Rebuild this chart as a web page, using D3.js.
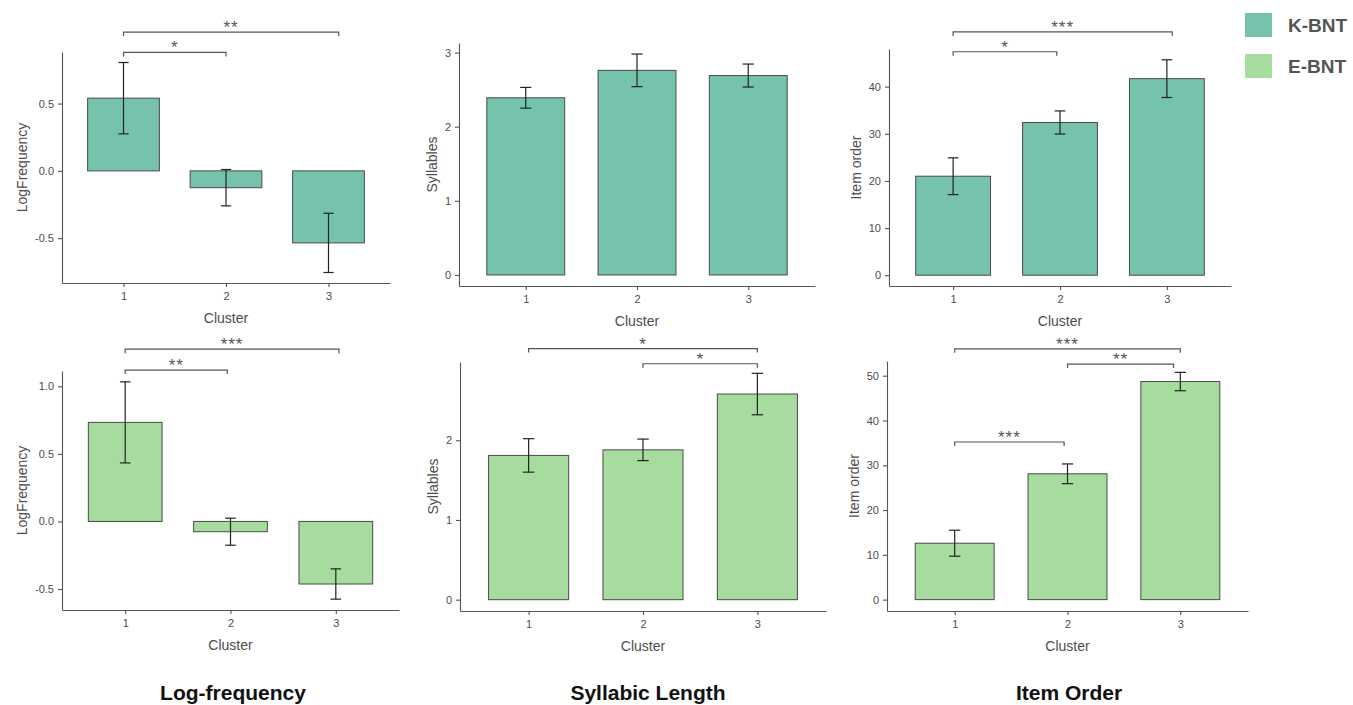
<!DOCTYPE html>
<html>
<head>
<meta charset="utf-8">
<script src="https://cdn.jsdelivr.net/npm/d3@7"></script>
<style>
  body { margin: 0; background: #fff; }
  svg { font-family: "Liberation Sans", Arial, sans-serif; }
  .axis path, .axis line { stroke: #555; stroke-width: 1.1; }
  .axis text { fill: #4d4d4d; font-size: 11px; }
  .axis-title { fill: #4d4d4d; font-size: 14px; }
  .sig-label { fill: #555; font-size: 17px; letter-spacing: 1px; }
  .panel-title { fill: #111; font-size: 21px; font-weight: bold; }
  .legend-text { fill: #555; font-size: 19px; font-weight: bold; }
</style>
</head>
<body>
<svg id="chart" width="1353" height="705"></svg>
<script>
// ---- data ----
const clusters = [1, 2, 3];
const groups = ['K-BNT', 'E-BNT'];
const groupColors = ['#75c3ad', '#a6dc9e'];
const measureTitles = ['Log-frequency', 'Syllabic Length', 'Item Order'];
const yLabels = ['LogFrequency', 'Syllables', 'Item order'];

// means and error half-widths, one value per cluster
const kLogFreq = [0.54, -0.125, -0.535];
const kLogFreqErr = [0.265, 0.135, 0.22];
const kSyllables = [2.39, 2.76, 2.69];
const kSyllablesErr = [0.14, 0.22, 0.155];
const kItemOrder = [21.0, 32.4, 41.7];
const kItemOrderErr = [3.9, 2.45, 4.0];

const eLogFreq = [0.733, -0.076, -0.463];
const eLogFreqErr = [0.30, 0.10, 0.112];
const eSyllables = [1.81, 1.88, 2.58];
const eSyllablesErr = [0.21, 0.135, 0.26];
const eItemOrder = [12.6, 28.1, 48.7];
const eItemOrderErr = [2.9, 2.2, 2.05];

// tick values per measure
const logFreqTicksK = [-0.5, 0, 0.5];
const logFreqTicksE = [-0.5, 0, 0.5, 1.0];
const syllableTicksK = [0, 1, 2, 3];
const syllableTicksE = [0, 1, 2];
const itemOrderTicksK = [0, 10, 20, 30, 40];
const itemOrderTicksE = [0, 10, 20, 30, 40, 50];

// significance brackets: from/to cluster, label, height in data units
const sigKLogFreq = [
  {from: 1, to: 2, label: '*', y: 0.88},
  {from: 1, to: 3.1, label: '**', y: 1.03}
];
const sigKSyllables = [];
const sigKItemOrder = [
  {from: 1, to: 1.97, label: '*', y: 47.4},
  {from: 1, to: 3.05, label: '***', y: 51.6}
];
const sigELogFreq = [
  {from: 1, to: 1.97, label: '**', y: 1.12},
  {from: 1, to: 3.03, label: '***', y: 1.275}
];
const sigESyllables = [
  {from: 2, to: 3, label: '*', y: 2.96},
  {from: 1, to: 3, label: '*', y: 3.15}
];
const sigEItemOrder = [
  {from: 1, to: 1.97, label: '***', y: 35.2},
  {from: 2, to: 2.94, label: '**', y: 52.6},
  {from: 1, to: 3, label: '***', y: 56.0}
];

// ---- panel layout (pixel boxes of each plot area) ----
const panels = [
  {group: 0, m: 0, mean: kLogFreq, err: kLogFreqErr, ticks: logFreqTicksK, sig: sigKLogFreq, fmt: d => d.toFixed(1),
   box: {left: 62, right: 390, top: 52, bottom: 283}},
  {group: 0, m: 1, mean: kSyllables, err: kSyllablesErr, ticks: syllableTicksK, sig: sigKSyllables, fmt: d => d,
   box: {left: 459, right: 815, top: 43, bottom: 286}},
  {group: 0, m: 2, mean: kItemOrder, err: kItemOrderErr, ticks: itemOrderTicksK, sig: sigKItemOrder, fmt: d => d,
   box: {left: 889, right: 1231, top: 49, bottom: 286}},
  {group: 1, m: 0, mean: eLogFreq, err: eLogFreqErr, ticks: logFreqTicksE, sig: sigELogFreq, fmt: d => d.toFixed(1),
   box: {left: 62, right: 399, top: 371, bottom: 610}},
  {group: 1, m: 1, mean: eSyllables, err: eSyllablesErr, ticks: syllableTicksE, sig: sigESyllables, fmt: d => d,
   box: {left: 460, right: 826, top: 362, bottom: 611}},
  {group: 1, m: 2, mean: eItemOrder, err: eItemOrderErr, ticks: itemOrderTicksE, sig: sigEItemOrder, fmt: d => d,
   box: {left: 887, right: 1248, top: 361, bottom: 611}}
];

const svg = d3.select('#chart');

function drawPanel(p) {
  const b = p.box;
  const rows = clusters.map((c, i) => ({cluster: c, mean: p.mean[i], lo: p.mean[i] - p.err[i], hi: p.mean[i] + p.err[i]}));

  // ggplot-like scales: discrete x expanded by 0.6, continuous y expanded by 5%
  const x = d3.scaleLinear().domain([0.4, 3.6]).range([b.left, b.right]);
  const yMin = d3.min(rows, d => Math.min(0, d.lo));
  const yMax = d3.max(rows, d => Math.max(0, d.hi));
  const pad = (yMax - yMin) * 0.05;
  const y = d3.scaleLinear().domain([yMin - pad, yMax + pad]).range([b.bottom, b.top]);

  const g = svg.append('g');
  const barW = x(1.35) - x(1);
  const capW = x(1.05) - x(1);

  g.selectAll('rect.bar')
    .data(rows)
    .join('rect')
    .attr('class', 'bar')
    .attr('x', d => x(d.cluster) - barW)
    .attr('width', barW * 2)
    .attr('y', d => y(Math.max(0, d.mean)))
    .attr('height', d => Math.abs(y(0) - y(d.mean)))
    .attr('fill', groupColors[p.group])
    .attr('stroke', '#4a4a4a')
    .attr('stroke-width', 1);

  // error bars
  const eb = g.selectAll('g.err').data(rows).join('g').attr('class', 'err')
    .attr('stroke', '#222').attr('stroke-width', 1.2);
  eb.append('line')
    .attr('x1', d => x(d.cluster)).attr('x2', d => x(d.cluster))
    .attr('y1', d => y(d.lo)).attr('y2', d => y(d.hi));
  eb.append('line')
    .attr('x1', d => x(d.cluster) - capW).attr('x2', d => x(d.cluster) + capW)
    .attr('y1', d => y(d.hi)).attr('y2', d => y(d.hi));
  eb.append('line')
    .attr('x1', d => x(d.cluster) - capW).attr('x2', d => x(d.cluster) + capW)
    .attr('y1', d => y(d.lo)).attr('y2', d => y(d.lo));

  // axes
  const yAxisG = g.append('g').attr('class', 'axis')
    .attr('transform', `translate(${b.left},0)`)
    .call(d3.axisLeft(y).tickValues(p.ticks).tickFormat(p.fmt).tickSize(4).tickSizeOuter(0).tickPadding(4));
  g.append('g').attr('class', 'axis')
    .attr('transform', `translate(0,${b.bottom})`)
    .call(d3.axisBottom(x).tickValues(clusters).tickFormat(d3.format('d')).tickSize(4).tickSizeOuter(0).tickPadding(5));

  // axis titles
  let labelW = 0;
  yAxisG.selectAll('.tick text').each(function() { labelW = Math.max(labelW, this.getComputedTextLength()); });
  g.append('text')
    .attr('class', 'axis-title')
    .attr('transform', `translate(${b.left - 8 - labelW - 13},${(b.top + b.bottom) / 2}) rotate(-90)`)
    .attr('text-anchor', 'middle')
    .attr('dy', '0.35em')
    .text(yLabels[p.m]);
  g.append('text')
    .attr('class', 'axis-title')
    .attr('x', x(2))
    .attr('y', b.bottom + 40)
    .attr('text-anchor', 'middle')
    .text('Cluster');

  // significance brackets
  const sg = g.selectAll('g.sig').data(p.sig).join('g').attr('class', 'sig');
  sg.append('path')
    .attr('d', d => `M${x(d.from)},${y(d.y) + 4}V${y(d.y)}H${x(d.to)}V${y(d.y) + 4}`)
    .attr('fill', 'none')
    .attr('stroke', '#555')
    .attr('stroke-width', 1.2);
  sg.append('text')
    .attr('class', 'sig-label')
    .attr('x', d => (x(d.from) + x(d.to)) / 2)
    .attr('y', d => y(d.y) + 1)
    .attr('text-anchor', 'middle')
    .text(d => d.label);
}

panels.forEach(drawPanel);

// measure titles under each column
const titleX = [233, 648, 1069];
svg.selectAll('text.panel-title')
  .data(measureTitles)
  .join('text')
  .attr('class', 'panel-title')
  .attr('x', (d, i) => titleX[i])
  .attr('y', 700)
  .attr('text-anchor', 'middle')
  .text(d => d);

// legend
const legend = svg.append('g').attr('transform', 'translate(1245,13)');
legend.selectAll('rect')
  .data(groups)
  .join('rect')
  .attr('x', 0)
  .attr('y', (d, i) => i * 41)
  .attr('width', 27)
  .attr('height', 24)
  .attr('fill', (d, i) => groupColors[i]);
legend.selectAll('text')
  .data(groups)
  .join('text')
  .attr('class', 'legend-text')
  .attr('x', 43)
  .attr('y', (d, i) => i * 41 + 19)
  .text(d => d);
</script>
</body>
</html>
